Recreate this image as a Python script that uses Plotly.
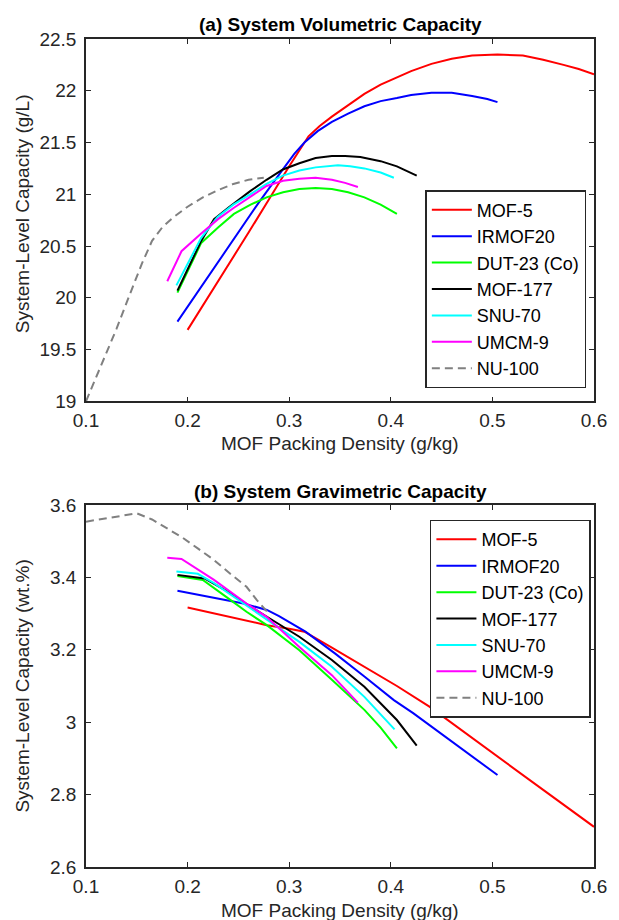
import plotly.graph_objects as go

# ---------------- data ----------------
names = ["MOF-5", "IRMOF20", "DUT-23 (Co)", "MOF-177", "SNU-70", "UMCM-9", "NU-100"]
colors = ["#ff0000", "#0000ff", "#00ff00", "#000000", "#00ffff", "#ff00ff", "#808080"]
dashes = ["solid", "solid", "solid", "solid", "solid", "solid", "8px,5px"]

# (a) volumetric capacity (g/L)
vol_mof5_x = [0.20, 0.22, 0.24, 0.26, 0.28, 0.30, 0.319, 0.33, 0.342, 0.358, 0.374, 0.39, 0.406, 0.42, 0.44, 0.46, 0.48, 0.505, 0.53, 0.55, 0.57, 0.585, 0.60]
vol_mof5_y = [19.69, 20.00, 20.32, 20.63, 20.95, 21.27, 21.56, 21.66, 21.75, 21.86, 21.97, 22.06, 22.13, 22.19, 22.26, 22.31, 22.34, 22.35, 22.34, 22.30, 22.25, 22.21, 22.16]
vol_irmof20_x = [0.19, 0.22, 0.25, 0.27, 0.29, 0.305, 0.315, 0.328, 0.342, 0.358, 0.374, 0.39, 0.406, 0.42, 0.44, 0.46, 0.48, 0.495, 0.505]
vol_irmof20_y = [19.77, 20.20, 20.63, 20.92, 21.19, 21.39, 21.50, 21.61, 21.70, 21.78, 21.85, 21.90, 21.93, 21.96, 21.98, 21.98, 21.95, 21.92, 21.89]
vol_dut23_x = [0.19, 0.20, 0.2134, 0.23, 0.2456, 0.262, 0.2777, 0.294, 0.31, 0.326, 0.342, 0.358, 0.374, 0.39, 0.406]
vol_dut23_y = [20.05, 20.25, 20.53, 20.68, 20.81, 20.90, 20.97, 21.02, 21.05, 21.06, 21.05, 21.02, 20.97, 20.90, 20.81]
vol_mof177_x = [0.19, 0.2134, 0.226, 0.24, 0.2616, 0.2777, 0.2938, 0.31, 0.326, 0.342, 0.355, 0.37, 0.39, 0.406, 0.4255]
vol_mof177_y = [20.07, 20.55, 20.76, 20.87, 21.03, 21.14, 21.24, 21.30, 21.35, 21.37, 21.37, 21.36, 21.32, 21.27, 21.18]
vol_snu70_x = [0.189, 0.2134, 0.2295, 0.245, 0.2616, 0.2777, 0.2938, 0.31, 0.326, 0.348, 0.36, 0.374, 0.39, 0.403]
vol_snu70_y = [20.12, 20.58, 20.78, 20.90, 21.00, 21.10, 21.18, 21.23, 21.26, 21.28, 21.27, 21.25, 21.21, 21.16]
vol_umcm9_x = [0.18, 0.194, 0.2134, 0.23, 0.2456, 0.262, 0.2777, 0.294, 0.31, 0.326, 0.342, 0.355, 0.3676]
vol_umcm9_y = [20.16, 20.45, 20.62, 20.76, 20.87, 20.98, 21.08, 21.13, 21.15, 21.16, 21.14, 21.11, 21.07]
vol_nu100_x = [0.10, 0.115, 0.13, 0.145, 0.155, 0.165, 0.175, 0.185, 0.20, 0.215, 0.23, 0.245, 0.26, 0.275]
vol_nu100_y = [19.00, 19.35, 19.70, 20.08, 20.33, 20.55, 20.68, 20.77, 20.88, 20.97, 21.04, 21.10, 21.14, 21.16]

# (b) gravimetric capacity (wt.%)
grav_mof5_x = [0.20, 0.24, 0.278, 0.30, 0.315, 0.342, 0.374, 0.406, 0.438, 0.47, 0.50, 0.55, 0.60]
grav_mof5_y = [3.317, 3.292, 3.268, 3.258, 3.250, 3.206, 3.154, 3.100, 3.043, 2.978, 2.915, 2.813, 2.711]
grav_irmof20_x = [0.19, 0.22, 0.255, 0.278, 0.29, 0.316, 0.345, 0.374, 0.403, 0.422, 0.451, 0.47, 0.49, 0.505]
grav_irmof20_y = [3.363, 3.347, 3.328, 3.310, 3.293, 3.250, 3.190, 3.126, 3.061, 3.025, 2.965, 2.925, 2.884, 2.854]
grav_dut23_x = [0.19, 0.215, 0.24, 0.258, 0.278, 0.31, 0.342, 0.374, 0.39, 0.406]
grav_dut23_y = [3.404, 3.393, 3.342, 3.305, 3.268, 3.199, 3.117, 3.034, 2.985, 2.928]
grav_mof177_x = [0.19, 0.2166, 0.24, 0.258, 0.2777, 0.31, 0.342, 0.374, 0.406, 0.4255]
grav_mof177_y = [3.407, 3.397, 3.360, 3.326, 3.292, 3.236, 3.172, 3.098, 3.006, 2.935]
grav_snu70_x = [0.189, 0.21, 0.226, 0.258, 0.2777, 0.31, 0.342, 0.374, 0.4037]
grav_snu70_y = [3.416, 3.410, 3.384, 3.322, 3.284, 3.222, 3.153, 3.070, 2.980]
grav_umcm9_x = [0.18, 0.194, 0.226, 0.258, 0.2777, 0.31, 0.342, 0.3676]
grav_umcm9_y = [3.454, 3.451, 3.393, 3.328, 3.291, 3.208, 3.130, 3.054]
grav_nu100_x = [0.10, 0.125, 0.15, 0.165, 0.18, 0.195, 0.21, 0.226, 0.242, 0.258, 0.268, 0.28]
grav_nu100_y = [3.554, 3.565, 3.577, 3.560, 3.535, 3.510, 3.480, 3.448, 3.410, 3.374, 3.338, 3.300]

x_ticks = [0.1, 0.2, 0.3, 0.4, 0.5, 0.6]
x_ticklabels = ["0.1", "0.2", "0.3", "0.4", "0.5", "0.6"]
vol_ticks = [19, 19.5, 20, 20.5, 21, 21.5, 22, 22.5]
vol_ticklabels = ["19", "19.5", "20", "20.5", "21", "21.5", "22", "22.5"]
grav_ticks = [2.6, 2.8, 3.0, 3.2, 3.4, 3.6]
grav_ticklabels = ["2.6", "2.8", "3", "3.2", "3.4", "3.6"]

title_a = "(a) System Volumetric Capacity"
title_b = "(b) System Gravimetric Capacity"
xlabel = "MOF Packing Density (g/kg)"
ylabel_a = "System-Level Capacity (g/L)"
ylabel_b = "System-Level Capacity (wt.%)"

vol_series = [(vol_mof5_x, vol_mof5_y), (vol_irmof20_x, vol_irmof20_y), (vol_dut23_x, vol_dut23_y),
              (vol_mof177_x, vol_mof177_y), (vol_snu70_x, vol_snu70_y), (vol_umcm9_x, vol_umcm9_y),
              (vol_nu100_x, vol_nu100_y)]
grav_series = [(grav_mof5_x, grav_mof5_y), (grav_irmof20_x, grav_irmof20_y), (grav_dut23_x, grav_dut23_y),
               (grav_mof177_x, grav_mof177_y), (grav_snu70_x, grav_snu70_y), (grav_umcm9_x, grav_umcm9_y),
               (grav_nu100_x, grav_nu100_y)]

# ---------------- figure ----------------
FONT = "Liberation Sans, Arial, sans-serif"
AX = "#262626"
fig = go.Figure()

for (xs, ys), n, c, d in zip(vol_series, names, colors, dashes):
    fig.add_trace(go.Scatter(x=xs, y=ys, mode="lines", name=n, line=dict(color=c, width=2, dash=d),
                             xaxis="x", yaxis="y", legend="legend"))
for (xs, ys), n, c, d in zip(grav_series, names, colors, dashes):
    fig.add_trace(go.Scatter(x=xs, y=ys, mode="lines", name=n, line=dict(color=c, width=2, dash=d),
                             xaxis="x2", yaxis="y2", legend="legend2"))

axis_common = dict(showline=True, linecolor=AX, linewidth=1.5, mirror="ticks", ticks="inside",
                   ticklen=5, tickwidth=1.2, tickcolor=AX, showgrid=False, zeroline=False,
                   tickfont=dict(family=FONT, size=19, color=AX), fixedrange=True)

top_dom = [0.5624, 1.0]
bot_dom = [0.0, 0.4372]

legend_font = dict(family=FONT, size=18, color="#000")

fig.update_layout(
    width=619, height=920,
    margin=dict(l=86, r=15, t=39, b=53),
    paper_bgcolor="white", plot_bgcolor="white",
    font=dict(family=FONT, size=19, color=AX),
    xaxis=dict(domain=[0, 1], anchor="y", range=[0.1, 0.6], tickvals=x_ticks, ticktext=x_ticklabels,
               ticklabelstandoff=1, **axis_common),
    yaxis=dict(domain=top_dom, anchor="x", range=[19, 22.5], tickvals=vol_ticks, ticktext=vol_ticklabels,
               ticklabelstandoff=4, **axis_common),
    xaxis2=dict(domain=[0, 1], anchor="y2", range=[0.1, 0.6], tickvals=x_ticks, ticktext=x_ticklabels,
                ticklabelstandoff=1, **axis_common),
    yaxis2=dict(domain=bot_dom, anchor="x2", range=[2.6, 3.6], tickvals=grav_ticks, ticktext=grav_ticklabels,
                ticklabelstandoff=4, **axis_common),
    legend=dict(x=0.668, y=0.8175, xanchor="left", yanchor="top", bgcolor="white", itemwidth=40,
                bordercolor=AX, borderwidth=1.5, font=legend_font),
    legend2=dict(x=0.677, y=0.4195, xanchor="left", yanchor="top", bgcolor="white", itemwidth=40,
                 bordercolor=AX, borderwidth=1.5, font=legend_font),
    showlegend=True,
)

ann = dict(xref="paper", yref="paper", showarrow=False, font=dict(family=FONT, size=19, color=AX))
bold = dict(family=FONT, size=19, color="#000")
fig.add_annotation(text="<b>" + title_a + "</b>", x=0.5, y=1.018, xanchor="center", yanchor="middle",
                   **{**ann, "font": bold})
fig.add_annotation(text="<b>" + title_b + "</b>", x=0.5, y=0.454, xanchor="center", yanchor="middle",
                   **{**ann, "font": bold})
fig.add_annotation(text=xlabel, x=0.5, y=0.5109, xanchor="center", yanchor="middle", **ann)
fig.add_annotation(text=xlabel, x=0.5, y=-0.0531, xanchor="center", yanchor="middle", **ann)
fig.add_annotation(text=ylabel_a, x=-0.1248, y=(top_dom[0] + top_dom[1]) / 2 + 0.008, xanchor="center",
                   yanchor="middle", textangle=-90, **ann)
fig.add_annotation(text=ylabel_b, x=-0.1248, y=(bot_dom[0] + bot_dom[1]) / 2, xanchor="center",
                   yanchor="middle", textangle=-90, **ann)

fig.write_html("out.html")
